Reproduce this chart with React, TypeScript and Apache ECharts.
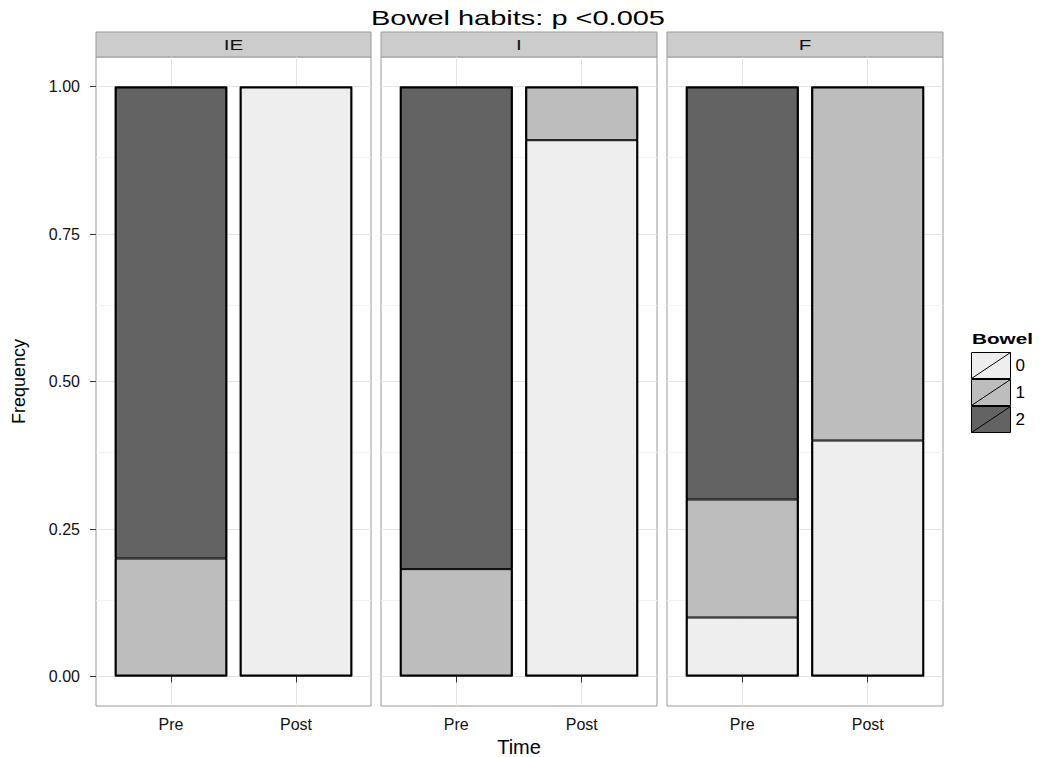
import React, { useEffect, useRef } from "react";
import * as echarts from "echarts";

// ---- data ----
const facets = ["IE", "I", "F"];
const times = ["Pre", "Post"];
const levels = ["0", "1", "2"];
const levelColors = ["#eeeeee", "#bdbdbd", "#636363"];
// frequencies per facet, per Bowel level, for [Pre, Post]
const ieLevel0 = [0, 1];
const ieLevel1 = [0.2, 0];
const ieLevel2 = [0.8, 0];
const iLevel0 = [0, 0.909];
const iLevel1 = [0.182, 0.091];
const iLevel2 = [0.818, 0];
const fLevel0 = [0.1, 0.4];
const fLevel1 = [0.2, 0.6];
const fLevel2 = [0.7, 0];
const yTicks = [0, 0.25, 0.5, 0.75, 1];
const yMinorTicks = [0.125, 0.375, 0.625, 0.875];

const facetData = [
  [ieLevel0, ieLevel1, ieLevel2],
  [iLevel0, iLevel1, iLevel2],
  [fLevel0, fLevel1, fLevel2],
];

// ---- layout ----
const FONT = "Liberation Sans, Arial, Helvetica, sans-serif";
const STRETCH = 1.38;
const panelLeft = [96, 381, 667];
const panelWidth = [275, 276, 276];
const panelTop = 57;
const panelHeight = 649;
const stripTop = 32;
const stripHeight = 25;
// ggplot-like expansion: y 5% each side, x 0.6 of a category each side
const yExpand = 0.05;
const xExpand = 0.6;

export default function App() {
  const ref = useRef<HTMLDivElement>(null);

  useEffect(() => {
    if (!ref.current) return;
    const chart = echarts.init(ref.current, undefined, { renderer: "svg" });
    const n = facets.length;
    const nCat = times.length;
    const xSpan = nCat - 1 + 2 * xExpand;

    // outer grids: panel box, gridlines, ticks, labels
    const outerGrids = facets.map((_, p) => ({
      left: panelLeft[p],
      top: panelTop,
      width: panelWidth[p],
      height: panelHeight,
      show: true,
      borderColor: "#9a9a9a",
      borderWidth: 1,
      backgroundColor: "transparent",
      outerBoundsMode: "none",
      containLabel: false,
    }));
    // inner grids: data region for the stacked bars (category axis)
    const innerGrids = facets.map((_, p) => {
      const unit = panelWidth[p] / xSpan;
      const innerW = unit * nCat;
      const innerLeft = panelLeft[p] + (xExpand - 0.5) * unit;
      const innerH = panelHeight / (1 + 2 * yExpand);
      const innerTop = panelTop + panelHeight * yExpand / (1 + 2 * yExpand);
      return {
        left: innerLeft,
        top: innerTop,
        width: innerW,
        height: innerH,
        show: false,
        outerBoundsMode: "none",
        containLabel: false,
      };
    });

    const tickLabelStyle = {
      fontFamily: FONT,
      fontSize: 16,
      color: "#111",
    };

    const outerX = facets.map((_, p) => ({
      type: "value",
      gridIndex: p,
      min: 1 - xExpand,
      max: nCat + xExpand,
      axisLine: { show: false },
      axisTick: {
        show: true,
        customValues: times.map((_, i) => i + 1),
        length: 6,
        lineStyle: { color: "#333", width: 1 },
      },
      axisLabel: {
        customValues: times.map((_, i) => i + 1),
        formatter: (v: number) => times[Math.round(v) - 1] ?? "",
        ...tickLabelStyle,
        margin: 10,
      },
      splitLine: { show: true, lineStyle: { color: "#e5e5e5", width: 1 } },
      name: p === 1 ? "Time" : "",
      nameLocation: "middle",
      nameGap: 26,
      nameTextStyle: { fontFamily: FONT, fontSize: 20, color: "#000" },
    }));
    const outerY = facets.map((_, p) => ({
      type: "value",
      gridIndex: p,
      min: -yExpand,
      max: 1 + yExpand,
      axisLine: { show: false },
      axisTick: {
        show: p === 0,
        customValues: yTicks,
        length: 6,
        lineStyle: { color: "#333", width: 1 },
      },
      axisLabel: {
        show: p === 0,
        customValues: yTicks,
        formatter: (v: number) => v.toFixed(2),
        ...tickLabelStyle,
        margin: 16,
      },
      splitLine: { show: true, lineStyle: { color: "#e5e5e5", width: 1 } },
      name: p === 0 ? "Frequency" : "",
      nameLocation: "middle",
      nameGap: 68,
      nameTextStyle: { fontFamily: FONT, fontSize: 18, color: "#000" },
    }));
    const innerX = facets.map((_, p) => ({
      type: "category",
      gridIndex: n + p,
      data: times,
      boundaryGap: true,
      show: false,
    }));
    const innerY = facets.map((_, p) => ({
      type: "value",
      gridIndex: n + p,
      min: 0,
      max: 1,
      show: false,
      splitLine: { show: false },
    }));

    const series: any[] = [];
    facets.forEach((_, p) => {
      series.push({
        type: "line",
        name: "minor-grid-" + p,
        xAxisIndex: p,
        yAxisIndex: p,
        data: [],
        silent: true,
        markLine: {
          silent: true,
          z: 1,
          symbol: "none",
          label: { show: false },
          lineStyle: { color: "#f3f3f3", width: 1, type: "solid" },
          data: yMinorTicks.map((t) => ({ yAxis: t })),
        },
      });
    });
    facetData.forEach((levelVals, p) => {
      levelVals.forEach((vals, l) => {
        series.push({
          type: "bar",
          name: levels[l],
          xAxisIndex: n + p,
          yAxisIndex: n + p,
          stack: "facet" + p,
          barWidth: "90%",
          barGap: "-100%",
          itemStyle: {
            color: levelColors[l],
            borderColor: "#000",
            borderWidth: 1,
          },
          data: vals.map((v) => (v > 0 ? v : "-")),
        });
      });
      // outline of the whole stacked bar (thicker outer border)
      const totals = times.map((_, i) =>
        levelVals.reduce((s, vals) => s + vals[i], 0)
      );
      series.push({
        type: "bar",
        name: "outline-" + p,
        xAxisIndex: n + p,
        yAxisIndex: n + p,
        stack: "outline" + p,
        barWidth: "90%",
        barGap: "-100%",
        silent: true,
        itemStyle: {
          color: "rgba(0,0,0,0)",
          borderColor: "#000",
          borderWidth: 2,
        },
        data: totals,
      });
    });

    const graphics: any[] = [];
    facets.forEach((f, p) => {
      graphics.push({
        type: "rect",
        shape: { x: panelLeft[p], y: stripTop, width: panelWidth[p], height: stripHeight },
        style: { fill: "#cccccc", stroke: "#9a9a9a", lineWidth: 1 },
      });
      graphics.push({
        type: "text",
        x: panelLeft[p] + panelWidth[p] / 2,
        y: stripTop + stripHeight / 2 + 1,
        scaleX: STRETCH,
        style: {
          text: f,
          fontFamily: FONT,
          fontSize: 15,
          fill: "#111",
          align: "center",
          verticalAlign: "middle",
        },
      });
    });
    graphics.push({
      type: "text",
      x: 518,
      y: 18,
      scaleX: STRETCH,
      style: {
        text: "Bowel habits: p <0.005",
        fontFamily: FONT,
        fontSize: 21,
        fill: "#000",
        align: "center",
        verticalAlign: "middle",
      },
    });
    graphics.push({
      type: "text",
      x: 972,
      y: 339,
      scaleX: STRETCH,
      style: {
        text: "Bowel",
        fontFamily: FONT,
        fontSize: 15,
        fontWeight: "bold",
        fill: "#000",
        align: "left",
        verticalAlign: "middle",
      },
    });

    chart.setOption({
      animation: false,
      backgroundColor: "#ffffff",
      legend: {
        orient: "vertical",
        left: 971,
        top: 352,
        padding: 0,
        itemGap: 0,
        itemWidth: 39,
        itemHeight: 26,
        symbolKeepAspect: false,
        selectedMode: false,
        icon: "path://M0,0L39,0L39,26L0,26Z M0,26L39,0",
        data: levels,
        itemStyle: { borderColor: "#000", borderWidth: 1 },
        textStyle: { fontFamily: FONT, fontSize: 17, color: "#000" },
      },
      grid: [...outerGrids, ...innerGrids],
      xAxis: [...outerX, ...innerX],
      yAxis: [...outerY, ...innerY],
      series,
      graphic: graphics,
    });

    return () => chart.dispose();
  }, []);

  return (
    <div
      ref={ref}
      style={{ position: "fixed", left: 0, top: 0, width: 1041, height: 757 }}
    />
  );
}
